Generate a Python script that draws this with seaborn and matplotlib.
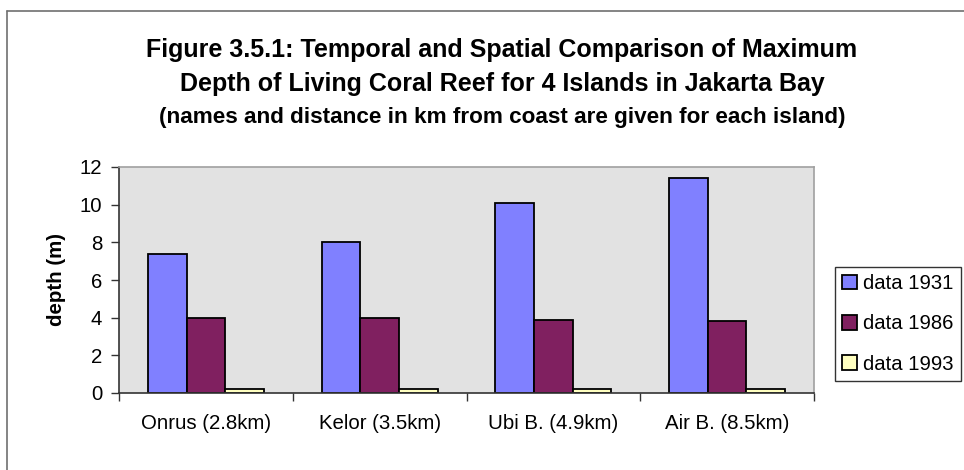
import matplotlib
matplotlib.use("Agg")
import matplotlib.pyplot as plt
from matplotlib.lines import Line2D
import seaborn as sns
import pandas as pd

# Islands (with distance from coast) and maximum living-coral depth per survey year
islands = ["Onrus (2.8km)", "Kelor (3.5km)", "Ubi B. (4.9km)", "Air B. (8.5km)"]
series = ["data 1931", "data 1986", "data 1993"]
depth_1931 = [7.4, 8.0, 10.1, 11.4]
depth_1986 = [4.0, 4.0, 3.9, 3.8]
depth_1993 = [0.2, 0.2, 0.2, 0.2]
y_ticks = [0, 2, 4, 6, 8, 10, 12]

colors = ["#8080FF", "#802060", "#FFFFC0"]

df = pd.DataFrame({
    "island": islands * 3,
    "series": [series[0]] * 4 + [series[1]] * 4 + [series[2]] * 4,
    "depth": depth_1931 + depth_1986 + depth_1993,
})

sns.set_theme(style="white")
plt.rcParams["font.family"] = ["Liberation Sans", "DejaVu Sans"]
plt.rcParams.update({"text.color": "black", "axes.labelcolor": "black",
                     "xtick.color": "black", "ytick.color": "black"})

fig = plt.figure(figsize=(9.64, 4.70), dpi=100)
ax = fig.add_axes([119 / 964, 1 - 393 / 470, (814 - 119) / 964, (393 - 167) / 470])

sns.barplot(data=df, x="island", y="depth", hue="series", order=islands,
            hue_order=series, palette=colors, width=0.667, gap=0,
            edgecolor="black", linewidth=1.3, saturation=1, ax=ax,
            legend=True)

ax.set_facecolor("#E2E2E2")
ax.set_xlim(-0.5, 3.5)
ax.set_ylim(0, 12)
ax.set_yticks(y_ticks)
ax.set_yticklabels([str(v) for v in y_ticks], fontsize=14.7)
ax.set_xlabel("")
ax.set_ylabel("depth (m)", fontsize=14.8, fontweight="bold", labelpad=10)

# category labels centred, tick marks on category boundaries
ax.set_xticks(range(len(islands)))
ax.set_xticklabels(islands, fontsize=14.7)
ax.set_xticks([i - 0.5 for i in range(len(islands) + 1)], minor=True)
ax.tick_params(axis="x", which="major", length=0, pad=15)
ax.tick_params(axis="x", which="minor", length=6, width=1, color="#333333",
               direction="out", bottom=True)
ax.tick_params(axis="y", which="major", length=6, width=1, color="#333333",
               direction="out", left=True, pad=6)

for side in ["left", "bottom"]:
    ax.spines[side].set_color("#333333")
    ax.spines[side].set_linewidth(1.2)
for side in ["top", "right"]:
    ax.spines[side].set_color("#A0A0A0")
    ax.spines[side].set_linewidth(1.2)
    ax.spines[side].set_visible(True)

# legend box on the right
handles, labels = ax.get_legend_handles_labels()
ax.get_legend().remove()
leg = fig.legend(handles, labels, loc="upper left",
                 bbox_to_anchor=(835 / 964, 1 - 267 / 470),
                 bbox_transform=fig.transFigure, fontsize=14.6, frameon=True,
                 fancybox=False, edgecolor="black", handlelength=0.74,
                 handleheight=0.74, handletextpad=0.3, labelspacing=1.05,
                 borderpad=0.35, borderaxespad=0)
leg.get_frame().set_linewidth(1.0)

# title block
title_x = 502 / 964
fig.text(title_x, 1 - 50 / 470,
         "Figure 3.5.1: Temporal and Spatial Comparison of Maximum",
         ha="center", va="center", fontsize=18, fontweight="bold")
fig.text(title_x, 1 - 84 / 470,
         "Depth of Living Coral Reef for 4 Islands in Jakarta Bay",
         ha="center", va="center", fontsize=18, fontweight="bold")
fig.text(title_x, 1 - 117 / 470,
         "(names and distance in km from coast are given for each island)",
         ha="center", va="center", fontsize=16.2, fontweight="bold")

# outer chart frame (top and left edges)
fig.add_artist(Line2D([7 / 964, 1.0], [1 - 11 / 470, 1 - 11 / 470],
                      transform=fig.transFigure, color="#707070", lw=1.2))
fig.add_artist(Line2D([7 / 964, 7 / 964], [1 - 11 / 470, 0.0],
                      transform=fig.transFigure, color="#707070", lw=1.2))

fig.savefig("out.png", dpi=100, facecolor="white")
